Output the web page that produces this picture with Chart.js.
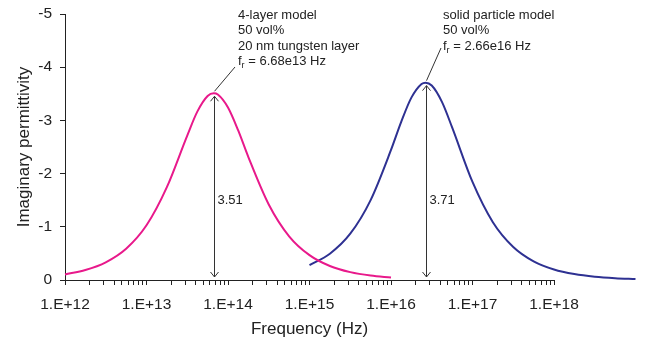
<!DOCTYPE html>
<html>
<head>
<meta charset="utf-8">
<script src="https://cdn.jsdelivr.net/npm/chart.js@4/dist/chart.umd.min.js"></script>
<style>
  html, body { margin: 0; padding: 0; background: #fff; }
  #wrap { width: 650px; height: 350px; }
</style>
</head>
<body>
<div id="wrap"><canvas id="c" width="650" height="350"></canvas></div>
<script>
// ---- data ----
const pinkFreq = [1e12, 1.778e12, 3.162e12, 5.623e12, 1e13, 1.778e13, 3.162e13, 4.217e13, 5.623e13, 6.68e13, 7.499e13, 1e14, 1.334e14, 1.778e14, 3.162e14, 5.623e14, 1e15, 1.778e15, 3.162e15, 5.623e15, 1e16];
const pinkValues = [-0.105, -0.187, -0.332, -0.587, -1.028, -1.745, -2.715, -3.169, -3.459, -3.51, -3.487, -3.243, -2.811, -2.311, -1.420, -0.822, -0.467, -0.263, -0.148, -0.083, -0.047];

const blueFreq = [1e15, 1.778e15, 3.162e15, 5.623e15, 1e16, 1.334e16, 1.778e16, 2.371e16, 2.66e16, 3.162e16, 4.217e16, 5.623e16, 1e17, 1.778e17, 3.162e17, 5.623e17, 1e18, 1.778e18, 3.162e18, 5.623e18, 1e19];
const blueValues = [-0.279, -0.494, -0.870, -1.502, -2.444, -2.972, -3.428, -3.686, -3.71, -3.655, -3.348, -2.868, -1.843, -1.086, -0.620, -0.350, -0.197, -0.111, -0.062, -0.035, -0.020];

const decadeValues = [1e12, 1e13, 1e14, 1e15, 1e16, 1e17, 1e18];
const decadeLabels = ['1.E+12', '1.E+13', '1.E+14', '1.E+15', '1.E+16', '1.E+17', '1.E+18'];

const peakFreqs = [6.68e13, 2.66e16];
const peakValues = [3.51, 3.71];
const peakLabels = ['3.51', '3.71'];
const noteLines = [
  ['4-layer model', '50 vol%', '20 nm tungsten layer', 'f|r| = 6.68e13 Hz'],
  ['solid particle model', '50 vol%', 'f|r| = 2.66e16 Hz']
];

const FONT = "'Liberation Sans', Arial, sans-serif";
const TXT = '#222';

// ---- annotations plugin ----
const annot = {
  id: 'annot',
  afterDatasetsDraw(chart) {
    const ctx = chart.ctx, xs = chart.scales.x, ys = chart.scales.y;
    const noteX = [238, 443];
    const leaderEnd = [[235, 67], [441, 48]];
    ctx.save();
    for (let i = 0; i < peakFreqs.length; i++) {
      const px = Math.round(xs.getPixelForValue(peakFreqs[i])) + 0.5;
      const pTop = ys.getPixelForValue(-peakValues[i]);
      const p0 = ys.getPixelForValue(0);
      const top = pTop + 3, bot = p0 - 3;
      ctx.strokeStyle = '#333';
      ctx.lineWidth = 1;
      ctx.beginPath();
      ctx.moveTo(px, top); ctx.lineTo(px, bot);
      ctx.moveTo(px - 4, top + 5); ctx.lineTo(px, top); ctx.lineTo(px + 4, top + 5);
      ctx.moveTo(px - 4, bot - 5); ctx.lineTo(px, bot); ctx.lineTo(px + 4, bot - 5);
      ctx.stroke();
      ctx.fillStyle = TXT;
      ctx.font = '13px ' + FONT;
      ctx.textAlign = 'left';
      ctx.textBaseline = 'middle';
      ctx.fillText(peakLabels[i], px + 3, ys.getPixelForValue(-1.5));
      ctx.beginPath();
      ctx.moveTo(px, pTop - 2);
      ctx.lineTo(leaderEnd[i][0], leaderEnd[i][1]);
      ctx.stroke();
      const lines = noteLines[i];
      for (let j = 0; j < lines.length; j++) {
        const y = 15 + j * 15.6;
        let x = noteX[i];
        const parts = lines[j].split('|');
        ctx.font = '13px ' + FONT;
        if (parts.length === 3) {
          ctx.fillText(parts[0], x, y);
          x += ctx.measureText(parts[0]).width;
          ctx.font = '9px ' + FONT;
          ctx.fillText(parts[1], x, y + 4);
          x += ctx.measureText(parts[1]).width;
          ctx.font = '13px ' + FONT;
          ctx.fillText(parts[2], x, y);
        } else {
          ctx.fillText(lines[j], x, y);
        }
      }
    }
    ctx.restore();
  }
};

const toPts = (xs, ys) => xs.map((x, i) => ({ x, y: ys[i] }));

new Chart(document.getElementById('c'), {
  type: 'line',
  data: {
    datasets: [
      {
        label: '4-layer model',
        data: toPts(pinkFreq, pinkValues),
        borderColor: '#E8198B',
        borderWidth: 2,
        pointRadius: 0,
        cubicInterpolationMode: 'monotone',
        clip: false
      },
      {
        label: 'solid particle model',
        data: toPts(blueFreq, blueValues),
        borderColor: '#2E3192',
        borderWidth: 2,
        pointRadius: 0,
        cubicInterpolationMode: 'monotone',
        clip: false
      }
    ]
  },
  options: {
    responsive: false,
    animation: false,
    events: [],
    layout: { padding: { left: 0, top: 14, right: 96, bottom: 0 } },
    plugins: { legend: { display: false }, tooltip: { enabled: false } },
    scales: {
      x: {
        type: 'logarithmic',
        afterDataLimits(scale) { scale.min = decadeValues[0]; scale.max = decadeValues[decadeValues.length - 1]; },
        afterBuildTicks(scale) {
          const t = [];
          for (let d = 0; d < decadeValues.length; d++) {
            const base = decadeValues[d];
            if (d === decadeValues.length - 1) { t.push({ value: base }); break; }
            for (let m = 1; m <= 9; m++) t.push({ value: m * base });
          }
          scale.ticks = t;
        },
        afterFit(s) { s.height = 70; },
        ticks: {
          autoSkip: false,
          maxRotation: 0,
          minRotation: 0,
          padding: 10,
          color: TXT,
          font: { family: FONT, size: 15.5 },
          callback(v) {
            const k = decadeValues.findIndex(d => Math.abs(d - v) / d < 1e-6);
            return k >= 0 ? decadeLabels[k] : '';
          }
        },
        grid: { display: true, drawOnChartArea: false, drawTicks: true, tickLength: 5, color: '#222' },
        border: { display: true, color: '#222', width: 1 },
        title: {
          display: true,
          text: 'Frequency (Hz)',
          color: TXT,
          font: { family: FONT, size: 17 },
          padding: { top: 0, bottom: 10 }
        }
      },
      y: {
        type: 'linear',
        min: -5,
        max: 0,
        reverse: true,
        afterFit(s) { s.width = 65; s.paddingTop = 0; s.paddingBottom = 0; },
        ticks: {
          stepSize: 1,
          padding: 8,
          color: TXT,
          font: { family: FONT, size: 15.5 }
        },
        grid: { display: true, drawOnChartArea: false, drawTicks: true, tickLength: 5, color: '#222' },
        border: { display: true, color: '#222', width: 1 },
        title: {
          display: true,
          text: 'Imaginary permittivity',
          color: TXT,
          font: { family: FONT, size: 17 },
          padding: { top: 14, bottom: 0 }
        }
      }
    }
  },
  plugins: [annot]
});
</script>
</body>
</html>
